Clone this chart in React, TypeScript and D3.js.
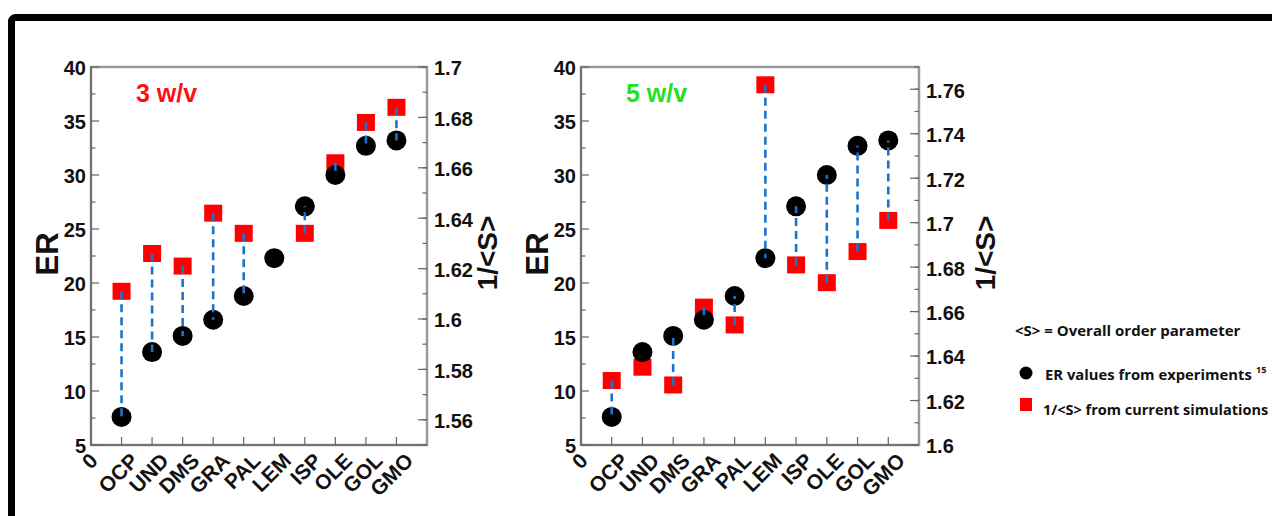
import React from "react";
import * as d3 from "d3";

const categories = ["0", "OCP", "UND", "DMS", "GRA", "PAL", "LEM", "ISP", "OLE", "GOL", "GMO"];
const erValues = [7.6, 13.6, 15.1, 16.6, 18.8, 22.3, 27.1, 30.0, 32.7, 33.2];
const invS3 = [1.611, 1.626, 1.621, 1.642, 1.634, null, 1.634, 1.662, 1.678, 1.684];
const invS5 = [1.629, 1.635, 1.627, 1.662, 1.654, 1.762, 1.681, 1.673, 1.687, 1.701];
const connect3 = [true, true, true, true, true, false, true, true, true, true];
const connect5 = [true, false, true, true, true, true, true, true, true, true];
const erTicks = [5, 10, 15, 20, 25, 30, 35, 40];
const invS3Ticks = [1.56, 1.58, 1.6, 1.62, 1.64, 1.66, 1.68, 1.7];
const invS5Ticks = [1.6, 1.62, 1.64, 1.66, 1.68, 1.7, 1.72, 1.74, 1.76];
const erDomain = [5, 40];
const invS3Domain = [1.55, 1.7];
const invS5Domain = [1.6, 1.77];

const FONT = "'Liberation Sans', Arial, Helvetica, sans-serif";
const LFONT = "'Open Sans', 'Noto Sans', sans-serif";

type PanelProps = {
  left: number;
  right: number;
  rDomain: number[];
  rTicks: number[];
  title: string;
  titleColor: string;
  sValues: (number | null)[];
  connect: boolean[];
  rLabelX: number;
};

function Panel({ left, right, rDomain, rTicks, title, titleColor, sValues, connect, rLabelX }: PanelProps) {
  const top = 67;
  const bottom = 445;
  const x = d3.scaleLinear().domain([0, 11]).range([left, right]);
  const yL = d3.scaleLinear().domain(erDomain).range([bottom, top]);
  const yR = d3.scaleLinear().domain(rDomain).range([bottom, top]);
  const erMinor = d3.range(erDomain[0] + 2.5, erDomain[1], 5);
  const rMinor = d3
    .range(Math.round(rDomain[0] * 100), Math.round(rDomain[1] * 100) + 1)
    .map((v) => v / 100);
  const fmt = (v: number) => String(+v.toFixed(2));
  const tickColor = "#666";
  return (
    <g>
      <rect x={left} y={top} width={right - left} height={bottom - top} fill="white" stroke="#9a9a9a" strokeWidth={2.5} />
      <line x1={left} x2={left} y1={top} y2={bottom} stroke="#666" strokeWidth={1.5} />
      <line x1={left} x2={right} y1={bottom} y2={bottom} stroke="#666" strokeWidth={1.5} />
      {erTicks.map((t) => (
        <g key={"l" + t}>
          <line x1={left} x2={left + 8} y1={yL(t)} y2={yL(t)} stroke={tickColor} strokeWidth={1.2} />
          <text x={left - 5} y={yL(t)} dy="0.42em" textAnchor="end" fontFamily={FONT} fontWeight="bold" fontSize={20} fill="#111">
            {t}
          </text>
        </g>
      ))}
      {erMinor.map((t) => (
        <line key={"lm" + t} x1={left} x2={left + 4.5} y1={yL(t)} y2={yL(t)} stroke={tickColor} strokeWidth={1.2} />
      ))}
      {rMinor.map((t) => (
        <line key={"rm" + t} x1={right} x2={right - 4.5} y1={yR(t)} y2={yR(t)} stroke={tickColor} strokeWidth={1.2} />
      ))}
      {rTicks.map((t) => (
        <g key={"r" + t}>
          <line x1={right} x2={right - 9} y1={yR(t)} y2={yR(t)} stroke={tickColor} strokeWidth={1.2} />
          <text x={right + 7} y={yR(t)} dy="0.42em" textAnchor="start" fontFamily={FONT} fontWeight="bold" fontSize={20} fill="#111">
            {fmt(t)}
          </text>
        </g>
      ))}
      {categories.map((c, i) => (
        <g key={"x" + c}>
          {i > 0 && <line x1={x(i)} x2={x(i)} y1={bottom} y2={bottom - 8} stroke={tickColor} strokeWidth={1.2} />}
          <text
            transform={`translate(${x(i) + (i === 0 ? 8 : 18)},${bottom + 17}) rotate(-45)`}
            textAnchor="end"
            fontFamily={FONT}
            fontWeight="bold"
            fontSize={21}
            fill="#111"
          >
            {c}
          </text>
        </g>
      ))}
      <text transform={`translate(${left - 33},254) rotate(-90)`} textAnchor="middle" fontFamily={FONT} fontWeight="bold" fontSize={31} fill="#111">
        ER
      </text>
      <text transform={`translate(${rLabelX},253) rotate(-90)`} textAnchor="middle" fontFamily={FONT} fontWeight="bold" fontSize={28} fill="#111">
        1/&lt;S&gt;
      </text>
      <text x={left + 45} y={102} fontFamily={FONT} fontWeight="bold" fontSize={25} fill={titleColor}>
        {title}
      </text>
      {sValues.map((v, i) =>
        v == null ? null : (
          <rect key={"s" + i} x={x(i + 1) - 9} y={yR(v) - 8.5} width={18} height={17} fill="#ff0000" />
        )
      )}
      {erValues.map((v, i) => (
        <circle key={"c" + i} cx={x(i + 1)} cy={yL(v)} r={10} fill="#000" />
      ))}
      {sValues.map((v, i) =>
        v == null || !connect[i] ? null : (
          <line
            key={"d" + i}
            x1={x(i + 1)}
            x2={x(i + 1)}
            y1={yR(v)}
            y2={yL(erValues[i])}
            stroke="#1a74cc"
            strokeWidth={2.6}
            strokeDasharray="8,5"
          />
        )
      )}
    </g>
  );
}

export default function App() {
  return (
    <svg width={1272} height={516} style={{ position: "absolute", left: 0, top: 0, background: "white" }}>
      <rect x={0} y={0} width={1272} height={516} fill="white" />
      <rect x={11.5} y={17.5} width={1400} height={1000} rx={4} fill="none" stroke="#000" strokeWidth={7} />
      <Panel
        left={91}
        right={427}
        rDomain={invS3Domain}
        rTicks={invS3Ticks}
        title="3 w/v"
        titleColor="#ff1010"
        sValues={invS3}
        connect={connect3}
        rLabelX={497}
      />
      <Panel
        left={581}
        right={919}
        rDomain={invS5Domain}
        rTicks={invS5Ticks}
        title="5 w/v"
        titleColor="#22e022"
        sValues={invS5}
        connect={connect5}
        rLabelX={995}
      />
      <text x={1015} y={336} fontFamily={LFONT} fontWeight={700} fontSize={15} fill="#111">
        &lt;S&gt; = Overall order parameter
      </text>
      <circle cx={1026} cy={373} r={6.5} fill="#000" />
      <text x={1045} y={380} fontFamily={LFONT} fontWeight={700} fontSize={14.8} fill="#111">
        ER values from experiments
      </text>
      <text x={1256} y={373} fontFamily={LFONT} fontWeight={700} fontSize={9} fill="#111">
        15
      </text>
      <rect x={1020} y={398} width={12} height={13} fill="#ff0000" />
      <text x={1043} y={415} fontFamily={LFONT} fontWeight={700} fontSize={14.5} fill="#111">
        1/&lt;S&gt; from current simulations
      </text>
    </svg>
  );
}
